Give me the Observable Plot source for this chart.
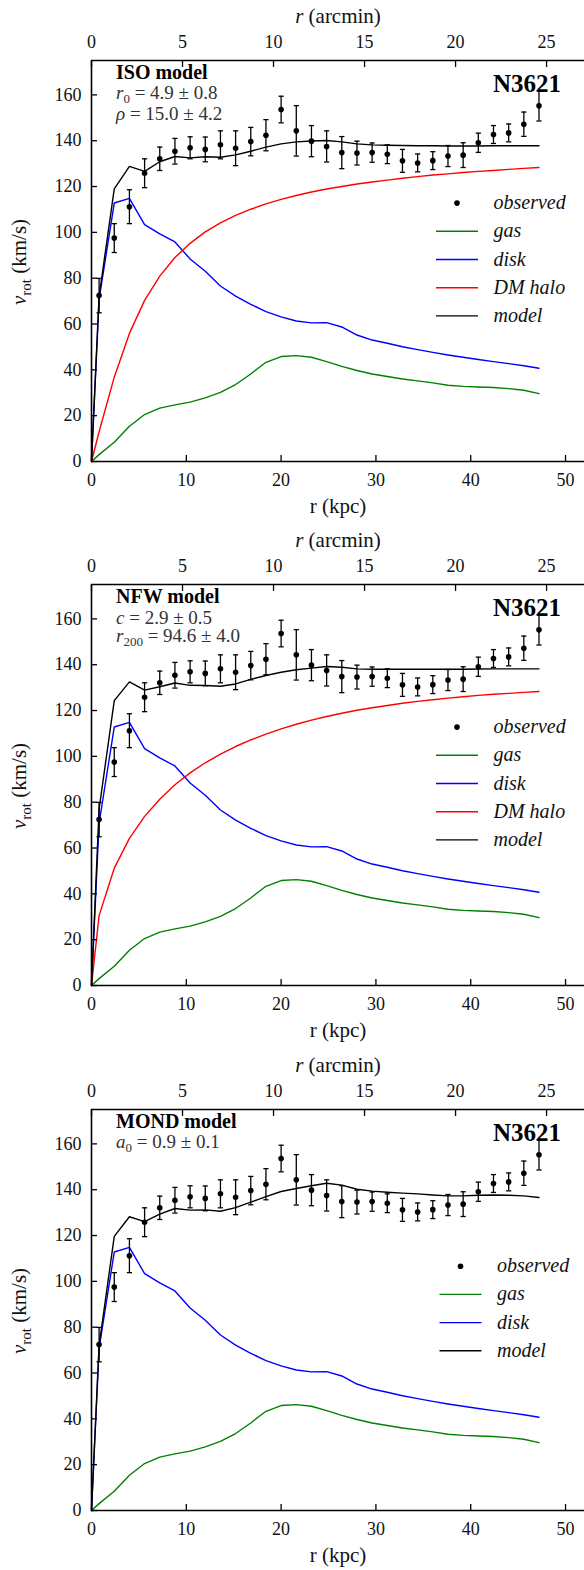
<!DOCTYPE html>
<html><head><meta charset="utf-8">
<script src="https://cdn.jsdelivr.net/npm/d3@7"></script>
<script src="https://cdn.jsdelivr.net/npm/@observablehq/plot@0.6"></script>
<style>
body{margin:0;background:#fff;width:584px;overflow:hidden}
#chart svg{display:block}
</style></head><body><div id="chart"></div>
<script>
// ---- data (kpc, km/s) ----
const radius = [0,0.8,2.4,4.0,5.6,7.2,8.8,10.4,12.0,13.6,15.2,16.8,18.4,20.0,21.6,23.2,24.8,26.4,28.0,29.6,31.2,32.8,34.4,36.0,37.6,39.2,40.8,42.4,44.0,45.6,47.2];
const gasV = [0,3.0,8.4,15.4,20.5,23.3,24.7,25.9,27.8,30.2,33.6,38.2,43.3,45.8,46.2,45.5,43.6,41.5,39.7,38.2,37.1,36.0,35.2,34.3,33.3,32.8,32.5,32.3,31.8,31.1,29.6];
const diskV = [0,70.8,112.8,114.8,103.4,99.3,95.8,88.4,83.0,76.6,72.2,68.6,65.4,63.1,61.3,60.5,60.6,58.7,55.2,53.0,51.6,50.1,48.8,47.6,46.5,45.5,44.5,43.6,42.7,41.8,40.7];
const isoHalo = [0,13.0,36.8,55.9,70.3,80.9,89.0,95.2,100.2,104.1,107.4,110.1,112.4,114.4,116.1,117.6,118.9,120.0,121.1,122.0,122.8,123.6,124.3,125.0,125.5,126.1,126.6,127.0,127.5,127.9,128.3];
const isoModel = [0,72.0,119.0,128.8,126.6,130.8,133.1,132.5,133.0,132.8,133.8,135.4,137.2,138.6,139.5,139.9,140.1,139.5,138.6,138.2,138.0,137.9,137.8,137.8,137.7,137.7,137.7,137.8,137.8,137.8,137.8];
const nfwHalo = [0,30.5,51.2,64.2,73.8,81.3,87.6,92.8,97.2,101.0,104.3,107.2,109.7,112.0,114.0,115.8,117.4,118.8,120.1,121.2,122.2,123.2,124.0,124.7,125.4,126.0,126.6,127.1,127.5,127.9,128.3];
const nfwModel = [0,77.0,124.3,132.5,128.9,130.4,132.0,131.0,130.9,130.6,131.6,133.6,135.3,136.7,137.8,138.5,139.2,138.9,138.2,138.0,138.0,138.0,138.0,138.0,138.0,138.0,138.1,138.2,138.2,138.2,138.2];
const mondModel = [0,72.0,119.6,128.2,126.1,129.3,131.8,131.1,131.2,130.6,132.2,134.6,137.0,139.2,140.5,141.7,142.8,142.0,140.2,139.4,138.9,138.5,138.2,137.7,137.3,137.3,137.6,137.7,137.6,137.3,136.6];
const obsR = [0.8,2.4,4.0,5.6,7.2,8.8,10.4,12.0,13.6,15.2,16.8,18.4,20.0,21.6,23.2,24.8,26.4,28.0,29.6,31.2,32.8,34.4,36.0,37.6,39.2,40.8,42.4,44.0,45.6,47.2];
const obsV = [72.4,97.5,111.2,125.8,132.1,135.4,136.9,136.2,138.2,136.7,139.6,142.4,153.6,144.3,139.8,137.5,134.8,134.6,134.8,134.1,131.2,130.3,131.3,133.3,133.7,139.1,142.7,143.4,147.2,155.2];
const obsErr = [7.5,6.3,7.4,6.3,5.1,5.6,4.8,5.4,6.1,7.6,6.2,6.8,5.8,11.0,6.8,6.8,7.0,5.2,4.2,4.1,5.0,3.9,3.9,4.6,5.4,4.2,3.9,3.9,5.3,6.6];
const kpcPerArcmin = 1.92;
const xTicks = [0,10,20,30,40,50];
const arcminTicks = [0,5,10,15,20,25];
const yTicks = [0,20,40,60,80,100,120,140,160];
const galaxy = "N3621";
const panels = [
  {title:"ISO model", params:[["r","0"," = 4.9 ± 0.8"],["ρ",""," = 15.0 ± 4.2"]], halo:isoHalo, model:isoModel, height:524},
  {title:"NFW model", params:[["c",""," = 2.9 ± 0.5"],["r","200"," = 94.6 ± 4.0"]], halo:nfwHalo, model:nfwModel, height:525},
  {title:"MOND model", params:[["a","0"," = 0.9 ± 0.1"]], halo:null, model:mondModel, height:521}
];
const paramBaselines = [[99,120],[100,118],[99]];
const colors = {gas:"#008000", disk:"#0000ff", halo:"#ff0000", model:"#000000"};
const FONT = "Liberation Serif, Times New Roman, serif";

const capSymbol = {draw(ctx){ ctx.moveTo(-2.6,0); ctx.lineTo(2.6,0); }};
const obs = obsR.map((r,i)=>({r, v:obsV[i], e:obsErr[i]}));
const series = (vals)=>radius.map((r,i)=>({r, v:vals[i]}));

function txt(g, x, y, size, anchor){
  return g.append("text").attr("x", x).attr("y", y).attr("font-size", size)
    .attr("text-anchor", anchor || "start").attr("font-family", FONT)
    .style("font-family", FONT);
}

function makePanel(p, idx){
  const frameBottom = 461;
  const lineSeries = [["gas", gasV], ["disk", diskV]];
  if (p.halo) lineSeries.push(["halo", p.halo]);
  lineSeries.push(["model", p.model]);
  const svg = Plot.plot({
    width:584, height:p.height,
    marginLeft:91, marginRight:0, marginTop:60, marginBottom:p.height-frameBottom,
    style:{background:"white", color:"#111", overflow:"visible"},
    x:{domain:[0,52]},
    y:{domain:[0,175]},
    marks:[
      ...lineSeries.map(([k,vals])=>Plot.line(series(vals), {x:"r", y:"v", stroke:colors[k], strokeWidth:1.4})),
      Plot.ruleX(obs, {x:"r", y1:d=>d.v-d.e, y2:d=>d.v+d.e, stroke:"black", strokeWidth:1.3}),
      Plot.dot(obs, {x:"r", y:d=>d.v+d.e, symbol:capSymbol, r:2, fill:"none", stroke:"black", strokeWidth:1.3}),
      Plot.dot(obs, {x:"r", y:d=>d.v-d.e, symbol:capSymbol, r:2, fill:"none", stroke:"black", strokeWidth:1.3}),
      Plot.dot(obs, {x:"r", y:"v", r:2.8, fill:"black", stroke:null}),
      Plot.ruleY([0], {stroke:"black", strokeWidth:1.6}),
      Plot.ruleY([175], {stroke:"black", strokeWidth:1.6}),
      Plot.ruleX([0], {stroke:"black", strokeWidth:1.6}),
      Plot.axisX({anchor:"bottom", ticks:xTicks, tickSize:-6, tickPadding:18, label:null, strokeWidth:1.3, stroke:"black", fontSize:18}),
      Plot.axisX({anchor:"top", ticks:arcminTicks.map(a=>a*kpcPerArcmin), tickFormat:d=>String(Math.round(d/kpcPerArcmin)), tickSize:-6, tickPadding:19, label:null, strokeWidth:1.3, stroke:"black", fontSize:18}),
      Plot.axisY({anchor:"left", ticks:yTicks, tickSize:-6, tickPadding:16, label:null, strokeWidth:1.3, stroke:"black", fontSize:18})
    ]
  });
  const s = d3.select(svg);
  s.attr("font-family", FONT).style("font-family", FONT).attr("font-size", 18);
  s.selectAll("text").attr("font-family", FONT).style("font-family", FONT);
  const g = s.append("g").attr("fill", "#111");
  // top axis label: r (arcmin)
  const t1 = txt(g, 338, 23, 21, "middle");
  t1.append("tspan").attr("font-style","italic").text("r");
  t1.append("tspan").text(" (arcmin)");
  // bottom axis label
  txt(g, 338, frameBottom+52, 21, "middle").text("r (kpc)");
  // y label
  const yl = txt(g, 0, 0, 21, "middle").attr("transform", "translate(26,262) rotate(-90)");
  yl.append("tspan").attr("font-style","italic").text("v");
  yl.append("tspan").attr("font-size", 15).attr("dy", 5).text("rot");
  yl.append("tspan").attr("dy", -5).text(" (km/s)");
  // title and params
  txt(g, 116, 79, 20).attr("font-weight","bold").attr("fill","#000").text(p.title);
  const baselines = paramBaselines[idx];
  p.params.forEach(([sym, sub, rest], i)=>{
    const t = txt(g, 116, baselines[i], 19).attr("fill","#333");
    t.append("tspan").attr("font-style","italic").text(sym);
    if (sub) {
      t.append("tspan").attr("font-size", 13).attr("dy", 4).text(sub);
      t.append("tspan").attr("dy", -4).text(rest);
    } else {
      t.append("tspan").text(rest);
    }
  });
  // galaxy name
  txt(g, 561, 92, 25, "end").attr("font-weight","bold").attr("fill","#000").text(galaxy);
  // legend
  const items = [["observed", null], ["gas", colors.gas], ["disk", colors.disk]];
  if (p.halo) items.push(["DM halo", colors.halo]);
  items.push(["model", colors.model]);
  const step = 28.2;
  const y0 = 259.5 - step*(items.length-1)/2;
  const lx0 = p.halo ? 436 : 439.5, lx1 = lx0 + 42, tx = lx0 + 57.5;
  items.forEach(([name, col], i)=>{
    const yy = y0 + i*step;
    if (col) g.append("line").attr("x1", lx0).attr("x2", lx1).attr("y1", yy).attr("y2", yy).attr("stroke", col).attr("stroke-width", 1.4);
    else g.append("circle").attr("cx", (lx0+lx1)/2).attr("cy", yy).attr("r", 2.8).attr("fill","black");
    txt(g, tx, yy+6, 20).attr("font-style","italic").attr("fill","#111").text(name);
  });
  return svg;
}
const chart = document.getElementById("chart");
panels.forEach((p,i)=>chart.appendChild(makePanel(p,i)));
</script></body></html>
